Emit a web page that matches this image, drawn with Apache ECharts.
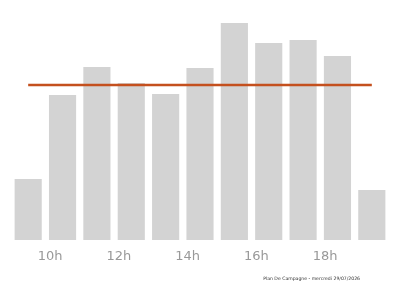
<!DOCTYPE html>
<html>
<head>
<meta charset="utf-8">
<script src="https://cdn.jsdelivr.net/npm/echarts@6/dist/echarts.min.js"></script>
<style>
  html, body { margin: 0; padding: 0; background: #fff; }
  #chart { width: 400px; height: 286px; }
</style>
</head>
<body>
<div id="chart"></div>
<script>
const hours = ['9h', '10h', '11h', '12h', '13h', '14h', '15h', '16h', '17h', '18h', '19h']
const visits = [61, 145, 173, 157, 146, 172, 217, 197, 200, 184, 50]
const average = [155, 155, 155, 155, 155, 155, 155, 155, 155, 155, 155]
const footer = 'Plan De Campagne - mercredi 29/07/2026'

const chart = echarts.init(document.getElementById('chart'))

chart.setOption({
  animation: false,
  grid: { left: 11, right: 11, top: 20, bottom: 46 },
  graphic: [{
    type: 'text',
    right: 40,
    bottom: 5,
    style: { text: footer, fontSize: 4.6, fill: '#333', fontFamily: 'DejaVu Sans' }
  }],
  xAxis: {
    type: 'category',
    data: hours,
    axisLine: { show: false },
    axisTick: { show: false },
    axisLabel: {
      interval: (i) => i % 2 === 1,
      color: '#999',
      fontSize: 13,
      fontFamily: 'DejaVu Sans',
      align: 'right',
      margin: 10
    }
  },
  yAxis: {
    type: 'value',
    min: 0,
    max: 220,
    show: false,
    splitLine: { show: false }
  },
  series: [
    {
      type: 'bar',
      data: visits,
      barCategoryGap: '21%',
      itemStyle: { color: '#d3d3d3' }
    },
    {
      type: 'line',
      data: average,
      symbol: 'none',
      lineStyle: { color: '#c4501e', width: 2.5 },
      z: 3
    }
  ]
})
</script>
</body>
</html>
